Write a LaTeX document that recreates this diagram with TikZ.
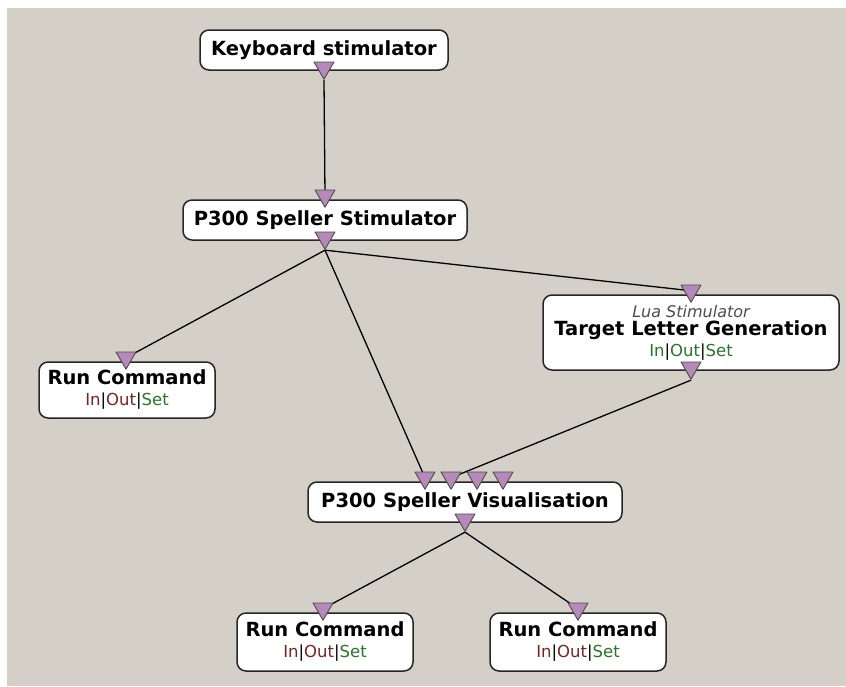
\documentclass[tikz,border=0pt]{standalone}
\usepackage{fontspec}
\setmainfont{DejaVu Sans}
\usetikzlibrary{shapes.geometric,positioning}
\definecolor{panelgray}{RGB}{212,208,200}
\definecolor{portlilac}{RGB}{181,137,186}
\definecolor{inred}{RGB}{120,35,35}
\definecolor{setgreen}{RGB}{40,118,40}
\pgfdeclarelayer{background}
\pgfsetlayers{background,main}
\newcommand{\titlefont}{\fontsize{19.5}{22}\selectfont\bfseries}
\newcommand{\subfont}{\fontsize{16.5}{19}\selectfont\mdseries}
\newcommand{\runios}{{\subfont\textcolor{inred}{In}|\textcolor{inred}{Out}|\textcolor{setgreen}{Set}}}

\begin{document}
\begin{tikzpicture}[x=1pt,y=-1pt,line cap=round,line join=round,
  box/.style={draw=black!85,fill=white,line width=1.5pt,rounded corners=9pt,inner sep=0pt,align=center,font=\titlefont},
  port/.style={regular polygon,regular polygon sides=3,shape border rotate=180,minimum size=23pt,inner sep=0pt,fill=portlilac,draw=black!70,line width=0.9pt},
  link/.style={draw=black,line width=1.3pt}]
\useasboundingbox (0,0) rectangle (846,686);
\node[box,minimum width=248pt,minimum height=40pt] (kbd) at (324,50) {Keyboard stimulator};
\node[box,minimum width=284pt,minimum height=40pt] (stim) at (325,220) {P300 Speller Stimulator};
\node[box,minimum width=296pt,minimum height=75pt] (tlg) at (691,332.5) {{\fontsize{16}{18}\selectfont\mdseries\itshape\color{black!70}Lua Stimulator}\\[-4pt] Target Letter Generation\\[-1pt] {\subfont\textcolor{setgreen}{In}|\textcolor{setgreen}{Out}|\textcolor{setgreen}{Set}}};
\node[box,minimum width=176pt,minimum height=56pt] (rcleft) at (127,390) {Run Command\\[-1pt] \runios};
\node[box,minimum width=314pt,minimum height=40pt] (vis) at (465,502) {P300 Speller Visualisation};
\node[box,minimum width=176pt,minimum height=58pt] (rcmid) at (325,642) {Run Command\\[-1pt] \runios};
\node[box,minimum width=176pt,minimum height=58pt] (rcright) at (578,642) {Run Command\\[-1pt] \runios};
% ports
\node[port] (kbdout) at ([yshift=3pt]kbd.south) {};
\node[port] (stimin) at ([yshift=3.5pt]stim.north) {};
\node[port] (stimout) at ([yshift=3pt]stim.south) {};
\node[port] (tlgin) at ([yshift=3.5pt]tlg.north) {};
\node[port] (tlgout) at ([yshift=3pt]tlg.south) {};
\node[port] (rcleftin) at ([xshift=-1pt,yshift=3.5pt]rcleft.north) {};
\node[port] (visin1) at ([xshift=-40pt,yshift=3.5pt]vis.north) {};
\node[port] (visin2) at ([xshift=-14pt,yshift=3.5pt]vis.north) {};
\node[port] (visin3) at ([xshift=12pt,yshift=3.5pt]vis.north) {};
\node[port] (visin4) at ([xshift=38pt,yshift=3.5pt]vis.north) {};
\node[port] (visout) at ([yshift=3pt]vis.south) {};
\node[port] (rcmidin) at ([xshift=-2pt,yshift=3.5pt]rcmid.north) {};
\node[port] (rcrightin) at ([yshift=3.5pt]rcright.north) {};
\begin{pgfonlayer}{background}
\fill[panelgray] (7,8) rectangle (846,686);
\draw[link] (kbdout.corner 1) -- (stimin.center);
\draw[link] (stimout.corner 1) -- (rcleftin.center);
\draw[link] (stimout.corner 1) -- (tlgin.center);
\draw[link] (stimout.corner 1) -- (visin1.center);
\draw[link] (tlgout.corner 1) -- (visin2.center);
\draw[link] (visout.corner 1) -- (rcmidin.center);
\draw[link] (visout.corner 1) -- (rcrightin.center);
\end{pgfonlayer}
\end{tikzpicture}
\end{document}
